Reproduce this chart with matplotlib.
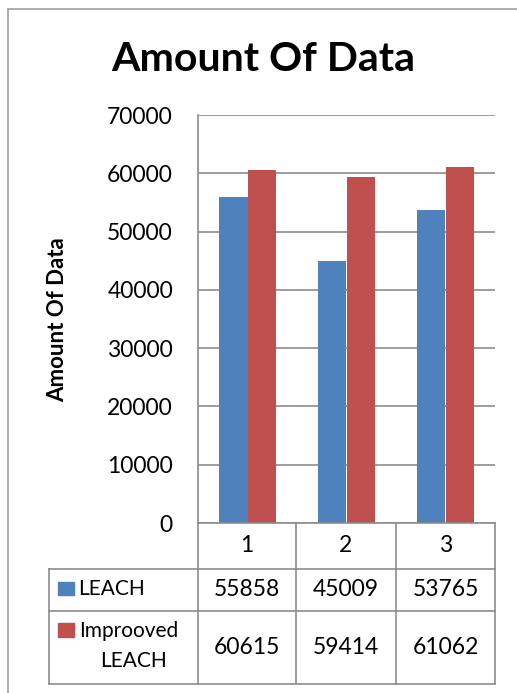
import matplotlib
matplotlib.use("Agg")
import matplotlib.pyplot as plt
from matplotlib.lines import Line2D
from matplotlib.patches import Rectangle
import numpy as np

categories = ["1", "2", "3"]
series_names = ["LEACH", "Improoved\nLEACH"]
leach = [55858, 45009, 53765]
improved = [60615, 59414, 61062]
yticks = [0, 10000, 20000, 30000, 40000, 50000, 60000, 70000]

blue = "#4F81BD"
red = "#C0504D"
grid_c = "#8C8C8C"
W, H = 517, 693

plt.rcParams['font.family'] = ['Lato', 'DejaVu Sans']

fig = plt.figure(figsize=(W / 100, H / 100), dpi=100)

def fx(px):
    return px / W

def fy(py):
    return 1 - py / H

# outer chart frame
fig.add_artist(Line2D([fx(8), fx(8)], [fy(9), fy(693)], color="#A0A0A0", lw=1.2))
fig.add_artist(Line2D([fx(8), fx(517)], [fy(9), fy(9)], color="#A0A0A0", lw=1.2))

ax = fig.add_axes([fx(198), fy(523), fx(495) - fx(198), fy(115) - fy(523)])
x = np.arange(len(categories))
bw = 0.29
ax.bar(x - bw / 2, leach, bw, color=blue, zorder=3)
ax.bar(x + bw / 2, improved, bw, color=red, zorder=3)
ax.set_xlim(-0.5, 2.5)
ax.set_ylim(0, 70000)
ax.set_yticks(yticks)
ax.set_yticklabels([str(v) for v in yticks], fontsize=16.5)
ax.tick_params(axis="y", length=0, pad=18)
ax.set_xticks([])
ax.yaxis.grid(True, color=grid_c, lw=1.2, zorder=0)
for s in ["top", "right", "bottom"]:
    ax.spines[s].set_visible(False)
ax.spines["left"].set_color(grid_c)
ax.spines["left"].set_linewidth(1.2)

fig.text(fx(263), fy(71), "Amount Of Data", fontsize=29.5, fontweight="bold",
         ha="center", va="baseline")
fig.text(fx(58), fy(320), "Amount Of Data", fontsize=16, fontweight="bold",
         rotation=90, ha="center", va="center")

# data table
cols = [49, 198, 296, 396, 495]
rows = [523, 569, 611, 684]
lc = "#8C8C8C"
for c in cols[1:]:
    fig.add_artist(Line2D([fx(c), fx(c)], [fy(rows[0]), fy(rows[3])], color=lc, lw=1.2))
fig.add_artist(Line2D([fx(cols[0]), fx(cols[0])], [fy(rows[1]), fy(rows[3])], color=lc, lw=1.2))
fig.add_artist(Line2D([fx(cols[1]), fx(cols[4])], [fy(rows[0]), fy(rows[0])], color=lc, lw=1.2))
for r in rows[1:]:
    fig.add_artist(Line2D([fx(cols[0]), fx(cols[4])], [fy(r), fy(r)], color=lc, lw=1.2))

for i, cat in enumerate(categories):
    cx = (cols[i + 1] + cols[i + 2]) / 2
    fig.text(fx(cx), fy(546), cat, fontsize=16.5, ha="center", va="center")
    fig.text(fx(cx), fy(590), str(leach[i]), fontsize=16.5, ha="center", va="center")
    fig.text(fx(cx), fy(647), str(improved[i]), fontsize=16.5, ha="center", va="center")

# legend keys in the table
fig.add_artist(Rectangle((fx(58), fy(595)), fx(16), fy(582) - fy(595), color=blue))
fig.text(fx(78), fy(589), series_names[0], fontsize=15, ha="left", va="center")
fig.add_artist(Rectangle((fx(58), fy(637)), fx(16), fy(623) - fy(637), color=red))
fig.text(fx(79), fy(631), series_names[1].split("\n")[0], fontsize=15, ha="left", va="center")
fig.text(fx(134), fy(661), series_names[1].split("\n")[1], fontsize=15, ha="center", va="center")

fig.savefig("out.png", dpi=100)
